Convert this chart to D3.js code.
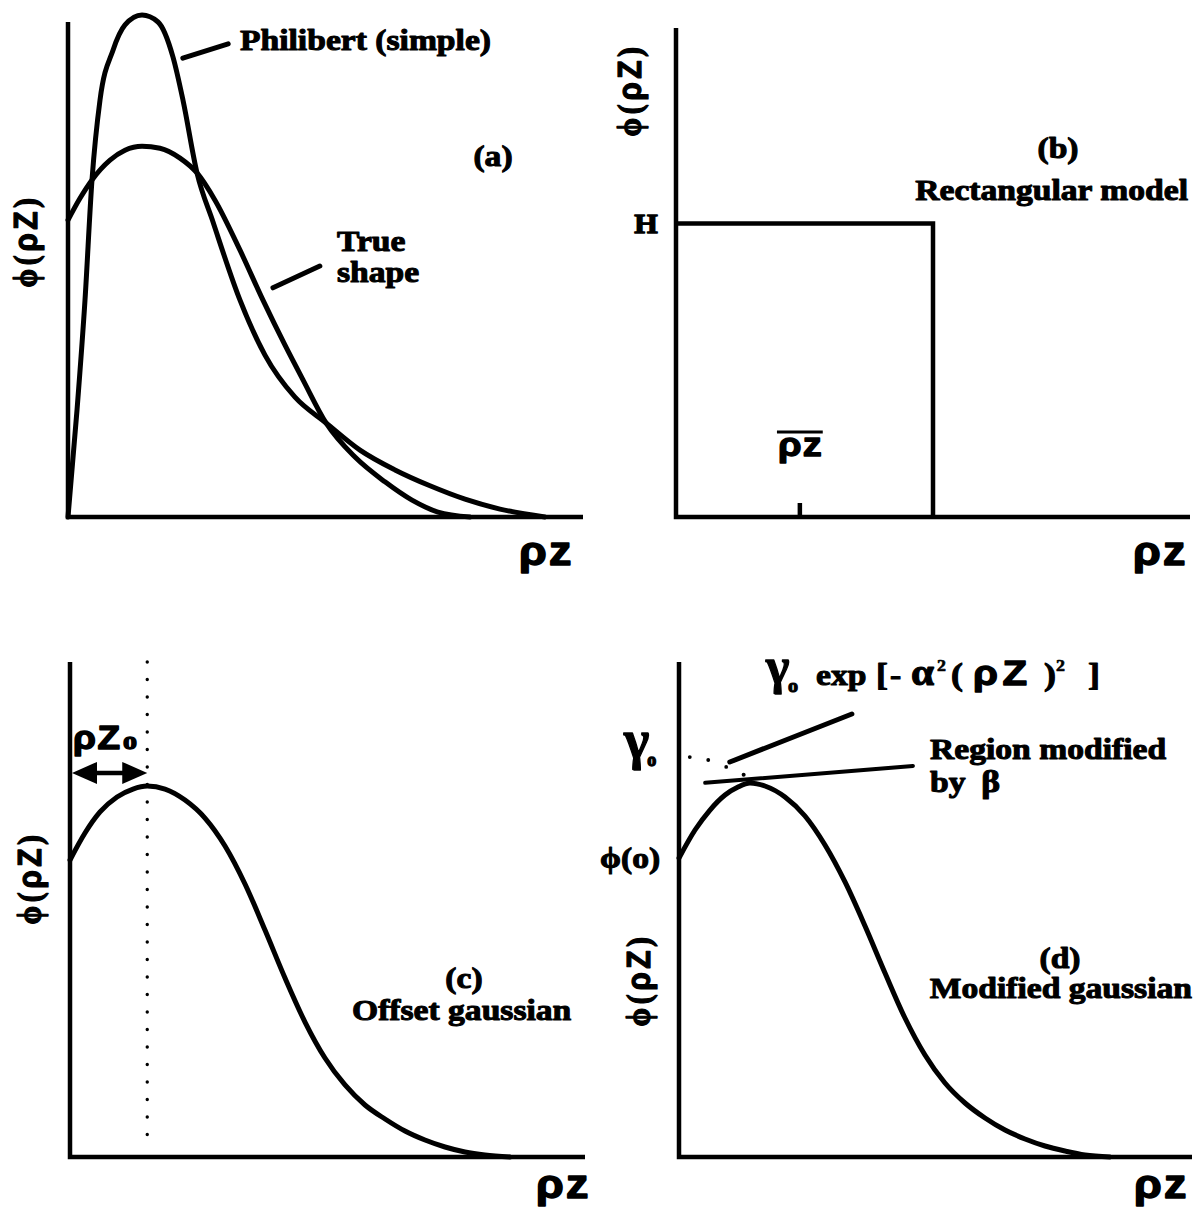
<!DOCTYPE html>
<html>
<head>
<meta charset="utf-8">
<script src="https://cdn.jsdelivr.net/npm/d3@7"></script>
<style>
  html, body { margin: 0; padding: 0; background: #fff; }
  svg { display: block; }
</style>
</head>
<body>
<svg id="fig" width="1196" height="1210"></svg>
<script>
// ---------------------------------------------------------------------------
// Data. Depth ρz and φ(ρz) are both given on a relative 0–100 scale.
// ---------------------------------------------------------------------------

// (a) Philibert (simple) model vs. the true φ(ρz) shape
const philibertRhoZ = [0, 1.75, 3.30, 4.66, 6.21, 8.74, 11.07, 14.37, 17.48, 20.39, 22.33, 25.05, 28.16, 33.40, 38.25, 44.08, 50.10, 56.70, 63.50, 70.29, 77.09, 83.88, 92.62];
const philibertPhi  = [0, 21.6, 43.8, 68.1, 84.2, 94.3, 99.4, 101.4, 100.0, 92.9, 84.2, 69.5, 59.6, 43.8, 32.7, 24.2, 19.0, 13.5, 9.5, 6.3, 3.6, 1.6, 0];
const trueRhoZ = [0, 2.33, 4.66, 8.16, 11.07, 14.37, 17.86, 21.75, 25.05, 28.54, 33.40, 37.86, 42.14, 45.63, 50.10, 55.73, 61.55, 66.80, 71.84, 78.06];
const truePhi  = [60.0, 64.4, 68.1, 72.1, 74.1, 74.9, 74.5, 72.5, 69.5, 64.0, 53.9, 43.8, 34.7, 27.7, 19.0, 12.1, 7.1, 3.4, 1.0, 0];

// (b) Rectangular model: height H over a depth range, with the mean depth marked
const rectHeightH = 60;
const rectRangeRhoZ = 50;
const meanRhoZ = 24;

// (c) Offset gaussian, peaking at ρz0
const offsetRhoZ = [0, 2.91, 5.83, 9.13, 12.23, 15.0, 18.45, 22.33, 26.21, 30.10, 33.98, 37.86, 41.75, 45.63, 49.51, 53.40, 57.28, 61.17, 65.05, 68.93, 72.82, 76.70, 80.58, 85.44];
const offsetPhi  = [60.0, 65.45, 69.70, 72.73, 74.34, 74.95, 74.34, 72.12, 68.48, 62.83, 55.15, 45.86, 36.16, 27.27, 20.0, 14.55, 10.51, 7.68, 5.25, 3.43, 2.02, 1.01, 0.40, 0];
const rhoZ0 = 15;

// (d) Modified gaussian with surface value φ(0) and amplitude γ0
const modifiedRhoZ = [0, 3.12, 6.04, 8.97, 11.50, 13.84, 16.76, 20.66, 24.56, 28.46, 32.36, 36.26, 40.16, 44.05, 47.95, 51.85, 55.75, 59.65, 63.55, 67.45, 71.35, 75.24, 79.14, 84.02];
const modifiedPhi  = [60.40, 66.06, 70.10, 73.13, 74.75, 75.56, 74.95, 72.73, 68.89, 63.03, 55.56, 46.67, 37.17, 28.08, 20.61, 14.95, 10.91, 7.88, 5.45, 3.64, 2.22, 1.21, 0.40, 0];
const phiZero = 60.4;
const gamma0 = 81;
const gaussDotsRhoZ = [2.1, 5.7, 9.2];
const gaussDotsPhi  = [80.8, 80.2, 78.8];

// ---------------------------------------------------------------------------
// Layout
// ---------------------------------------------------------------------------
const svg = d3.select("#fig");
const SERIF = "'Liberation Serif', 'Times New Roman', serif";
const SANS = "'Liberation Sans', Arial, sans-serif";
const STRETCH = 1.12;      // lettering is set slightly wide
const INK = 1.05;          // extra stroke that gives the lettering its heavy look
const CURVE_W = 5;
const AXIS_W = 4.5;

const frames = {
  a: { left: 68,  right: 583,  top: 22,  bottom: 517 },
  b: { left: 676, right: 1190, top: 28,  bottom: 517 },
  c: { left: 70,  right: 585,  top: 662, bottom: 1157 },
  d: { left: 679, right: 1192, top: 662, bottom: 1157 }
};

function scalesFor(f) {
  return {
    x: d3.scaleLinear().domain([0, 100]).range([f.left, f.right]),
    y: d3.scaleLinear().domain([0, 100]).range([f.bottom, f.top])
  };
}

function drawAxes(f) {
  svg.append("path")
    .attr("d", `M${f.left},${f.top} V${f.bottom} H${f.right}`)
    .attr("fill", "none")
    .attr("stroke", "#000")
    .attr("stroke-width", AXIS_W)
    .attr("stroke-linejoin", "miter");
}

function drawCurve(s, xs, ys) {
  const line = d3.line()
    .x(i => s.x(xs[i]))
    .y(i => s.y(ys[i]))
    .curve(d3.curveMonotoneX);
  svg.append("path")
    .attr("d", line(d3.range(xs.length)))
    .attr("fill", "none")
    .attr("stroke", "#000")
    .attr("stroke-width", CURVE_W)
    .attr("stroke-linejoin", "round")
    .attr("stroke-linecap", "round");
}

function segment(s, x1, y1, x2, y2, w = 4.5) {
  svg.append("line")
    .attr("x1", s.x(x1)).attr("y1", s.y(y1))
    .attr("x2", s.x(x2)).attr("y2", s.y(y2))
    .attr("stroke", "#000")
    .attr("stroke-width", w)
    .attr("stroke-linecap", "round");
}

// text with optional tspans: parts = ["plain", {t, size, family, dy, dx}]
function label(x, y, parts, o = {}) {
  let tf = `translate(${x},${y}) scale(${o.sx ?? STRETCH},1)`;
  if (o.rotate) tf += ` rotate(${o.rotate})`;
  const t = svg.append("text")
    .attr("transform", tf)
    .attr("text-anchor", o.anchor || "start")
    .attr("font-family", o.family || SERIF)
    .attr("font-size", o.size || 30)
    .attr("font-weight", "bold")
    .attr("letter-spacing", o.spacing || 0)
    .attr("fill", "#000")
    .attr("stroke", "#000")
    .attr("stroke-width", o.ink ?? INK)
    .attr("stroke-linejoin", "round");
  (Array.isArray(parts) ? parts : [parts]).forEach(p => {
    const s = typeof p === "string" ? { t: p } : p;
    const ts = t.append("tspan").text(s.t);
    if (s.family) ts.attr("font-family", s.family);
    if (s.size) ts.attr("font-size", s.size);
    if (s.dy) ts.attr("dy", s.dy);
    if (s.dx) ts.attr("dx", s.dx);
    if (s.spacing !== undefined) ts.attr("letter-spacing", s.spacing);
  });
  return t;
}

function yAxisTitle(x, y) {
  return label(x, y, ["\u03D5(", { t: "\u03C1Z", family: SANS }, ")"],
    { rotate: -90, anchor: "middle", size: 30, spacing: 3.5, ink: 1.1 });
}

function xAxisTitle(x, y) {
  return label(x, y, "\u03C1z", { family: SANS, size: 40, spacing: 2, ink: 1.5 });
}

// ---------------------------------------------------------------------------
// (a) Philibert (simple) vs. true shape
// ---------------------------------------------------------------------------
{
  const f = frames.a, s = scalesFor(f);
  drawAxes(f);
  drawCurve(s, trueRhoZ, truePhi);
  drawCurve(s, philibertRhoZ, philibertPhi);
  segment(s, 22.3, 92.7, 31.1, 95.6, 5);
  segment(s, 39.8, 46.3, 48.9, 50.7, 5);
  label(240, 50, "Philibert (simple)");
  label(493, 166, "(a)", { anchor: "middle" });
  label(337, 251, "True");
  label(337, 282, "shape");
  yAxisTitle(37, 241);
  xAxisTitle(519, 565);
}

// ---------------------------------------------------------------------------
// (b) Rectangular model
// ---------------------------------------------------------------------------
{
  const f = frames.b, s = scalesFor(f);
  drawAxes(f);
  svg.append("path")
    .attr("d", `M${s.x(0)},${s.y(rectHeightH)} H${s.x(rectRangeRhoZ)} V${s.y(0)}`)
    .attr("fill", "none").attr("stroke", "#000")
    .attr("stroke-width", AXIS_W).attr("stroke-linejoin", "miter");

  // mean-depth tick on the ρz axis
  const axis = d3.axisBottom(s.x).tickValues([meanRhoZ]).tickSize(-14).tickFormat("").tickSizeOuter(0);
  const ag = svg.append("g").attr("transform", `translate(0,${s.y(0)})`).call(axis);
  ag.select(".domain").remove();
  ag.selectAll(".tick line").attr("stroke", "#000").attr("stroke-width", 4.5);

  // mean depth, with overbar
  const cx = s.x(meanRhoZ) + 1;
  const mean = label(cx, 456, "\u03C1z", { family: SANS, size: 34, spacing: 1, anchor: "middle", ink: 1.3 });
  const bb = mean.node().getBBox();
  svg.append("line")
    .attr("x1", cx - bb.width * STRETCH / 2 - 1).attr("x2", cx + bb.width * STRETCH / 2)
    .attr("y1", 432).attr("y2", 432)
    .attr("stroke", "#000").attr("stroke-width", 3);

  label(s.x(0) - 30, s.y(rectHeightH) + 9, "H", { anchor: "middle", size: 27, ink: 1.3 });
  label(1058, 158, "(b)", { anchor: "middle" });
  label(1188, 200, "Rectangular model", { anchor: "end" });
  yAxisTitle(641, 90);
  xAxisTitle(1133, 565);
}

// ---------------------------------------------------------------------------
// (c) Offset gaussian
// ---------------------------------------------------------------------------
{
  const f = frames.c, s = scalesFor(f);
  drawAxes(f);

  // vertical dotted line at ρz0
  svg.append("line")
    .attr("x1", s.x(rhoZ0)).attr("x2", s.x(rhoZ0))
    .attr("y1", f.top).attr("y2", f.bottom - 8)
    .attr("stroke", "#000").attr("stroke-width", 3.4)
    .attr("stroke-dasharray", "0 17.5").attr("stroke-linecap", "round");

  drawCurve(s, offsetRhoZ, offsetPhi);

  // double-headed arrow spanning 0 … ρz0
  const ay = s.y(77.6), x0 = s.x(0) + 2, x1 = s.x(rhoZ0);
  svg.append("line").attr("x1", x0 + 18).attr("x2", x1 - 18).attr("y1", ay).attr("y2", ay)
    .attr("stroke", "#000").attr("stroke-width", 4.5);
  svg.append("path").attr("d", `M${x0},${ay} L${x0 + 25},${ay - 11} L${x0 + 25},${ay + 11} Z`).attr("fill", "#000");
  svg.append("path").attr("d", `M${x1},${ay} L${x1 - 25},${ay - 11} L${x1 - 25},${ay + 11} Z`).attr("fill", "#000");

  label(73, 749, [{ t: "\u03C1Z", family: SANS, spacing: 1.5 }, { t: "o", size: 25, dx: 1 }], { size: 33, ink: 1.4 });
  label(464, 988, "(c)", { anchor: "middle" });
  label(352, 1020, "Offset gaussian");
  yAxisTitle(41, 878);
  xAxisTitle(536, 1198);
}

// ---------------------------------------------------------------------------
// (d) Modified gaussian
// ---------------------------------------------------------------------------
{
  const f = frames.d, s = scalesFor(f);
  drawAxes(f);
  drawCurve(s, modifiedRhoZ, modifiedPhi);

  // start of the unmodified gaussian, drawn dotted
  svg.selectAll("circle.gauss")
    .data(d3.range(gaussDotsRhoZ.length))
    .join("circle")
    .attr("class", "gauss")
    .attr("cx", i => s.x(gaussDotsRhoZ[i]))
    .attr("cy", i => s.y(gaussDotsPhi[i]))
    .attr("r", 1.9)
    .attr("fill", "#000");

  // leaders to the two annotations
  segment(s, 9.9, 79.8, 33.7, 89.5, 5);
  segment(s, 5.1, 75.6, 45.6, 79.0, 4);
  svg.append("circle").attr("cx", s.x(12.6)).attr("cy", s.y(77.2)).attr("r", 2).attr("fill", "#000");

  // value labels on the φ axis
  label(624, s.y(gamma0) + 2, [{ t: "\u03B3", size: 54 }, { t: "o", size: 18, dy: 8, dx: -2 }], { size: 54, sx: 1, ink: 1.3 });
  label(600, s.y(phiZero) + 10, "\u03D5(o)", { size: 30 });

  // gaussian expression, set piece by piece
  const eb = 685;
  label(766, eb - 2, "\u03B3", { size: 50, sx: 1, ink: 1.3 });
  label(788, eb + 7, "o", { size: 18, ink: 1 });
  label(816, eb, "exp", { size: 30 });
  label(876, eb, "[", { size: 32 });
  label(890, eb, "-", { size: 30 });
  label(911, eb, "\u03B1", { size: 37 });
  label(937, eb - 14, "2", { size: 16, ink: 0.6 });
  label(951, eb, "(", { size: 32 });
  label(973, eb, "\u03C1Z", { family: SANS, size: 36, spacing: 4, ink: 1.3 });
  label(1044, eb, ")", { size: 32 });
  label(1056, eb - 14, "2", { size: 16, ink: 0.6 });
  label(1088, eb, "]", { size: 32 });

  label(930, 759, "Region modified");
  label(930, 792, ["by", { t: "\u03B2", size: 32, dx: 14 }]);
  label(1060, 968, "(d)", { anchor: "middle" });
  label(1192, 998, "Modified gaussian", { anchor: "end" });
  yAxisTitle(650, 980);
  xAxisTitle(1134, 1198);
}
</script>
</body>
</html>
